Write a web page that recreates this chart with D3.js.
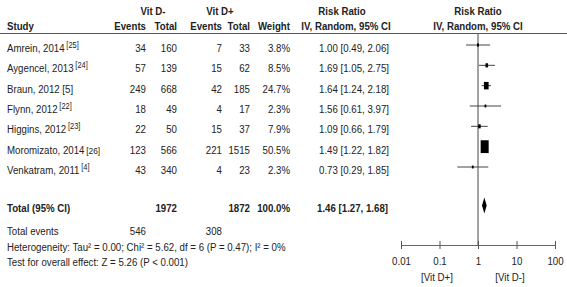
<!DOCTYPE html>
<html><head><meta charset="utf-8">
<script src="https://cdn.jsdelivr.net/npm/d3@7"></script>
<style>
html,body{margin:0;padding:0;background:#fff;}
svg text{font-family:"Liberation Sans",Arial,sans-serif;font-size:11px;fill:#222;}
</style></head>
<body><svg id="c" width="567" height="287"></svg>
<script>
const studies = ["Amrein, 2014", "Aygencel, 2013", "Braun, 2012", "Flynn, 2012", "Higgins, 2012", "Moromizato, 2014", "Venkatram,  2011"];
const refs = ["[25]", "[24]", "[5]", "[22]", "[23]", "[26]", "[4]"];
const refStyle = ["sup", "sup", "inline", "sup", "sup", "small", "sup"];
const eventsMinus = [34, 57, 249, 18, 22, 123, 43];
const totalMinus = [160, 139, 668, 49, 50, 566, 340];
const eventsPlus = [7, 15, 42, 4, 15, 221, 4];
const totalPlus = [33, 62, 185, 17, 37, 1515, 23];
const weights = [3.8, 8.5, 24.7, 2.3, 7.9, 50.5, 2.3];
const rr = [1.00, 1.69, 1.64, 1.56, 1.09, 1.49, 0.73];
const lo = [0.49, 1.05, 1.24, 0.61, 0.66, 1.22, 0.29];
const hi = [2.06, 2.75, 2.18, 3.97, 1.79, 1.82, 1.85];
const pooled = {rr: 1.46, lo: 1.27, hi: 1.68};
const totals = {minus: 1972, plus: 1872, weight: "100.0%"};
const totalEvents = {minus: 546, plus: 308};
const hetText = "Heterogeneity: Tau\u00B2 = 0.00; Chi\u00B2 = 5.62, df = 6 (P = 0.47); I\u00B2 = 0%";
const testText = "Test for overall effect: Z = 5.26 (P < 0.001)";
const axisTicks = [0.01, 0.1, 1, 10, 100];
const axisTickLabels = ["0.01", "0.1", "1", "10", "100"];
const favourLabels = ["[Vit D+]", "[Vit D-]"];

const SX = 0.88;
const svg = d3.select("#c");
const x = d3.scaleLog().domain([0.01, 100]).range([401, 555]);
const y = d3.scalePoint().domain(d3.range(studies.length)).range([48, 170]);
const sz = d3.scaleLinear().domain([0, 50.5]).range([1.5, 8]);
const fmt = d => d.toFixed(2);

function txt(t, xx, yy, anchor, bold) {
  return svg.append("text")
    .attr("transform", `translate(${xx},${yy}) scale(${SX},1)`)
    .attr("text-anchor", anchor || "start")
    .attr("font-weight", bold ? "bold" : null).text(t);
}

// headers
txt("Vit D-", 153, 15, "middle", true);
txt("Vit D+", 220, 15, "middle", true);
txt("Risk Ratio", 342, 15, "middle", true);
txt("Risk Ratio", 478, 15, "middle", true);
txt("Study", 7, 30, "start", true);
txt("Events", 146, 30, "end", true);
txt("Total", 177, 30, "end", true);
txt("Events", 222, 30, "end", true);
txt("Total", 250, 30, "end", true);
txt("Weight", 290, 30, "end", true);
txt("IV, Random, 95% CI", 346, 30, "middle", true);
txt("IV, Random, 95% CI", 478, 30, "middle", true);

svg.append("line").attr("x1", 0).attr("x2", 567).attr("y1", 33.5).attr("y2", 33.5)
  .attr("stroke", "#555").attr("stroke-width", 1.2);

// study rows
studies.forEach((s, i) => {
  const yy = y(i) + 4;
  const t = txt(s, 7, yy);
  if (refStyle[i] === "sup") {
    t.append("tspan").attr("font-size", "8.5px").attr("dy", -4).attr("dx", 2).text(refs[i]);
  } else if (refStyle[i] === "small") {
    t.append("tspan").attr("font-size", "9.5px").attr("dx", 2).text(refs[i]);
  } else {
    t.append("tspan").attr("dx", 3).text(refs[i]);
  }
  txt(eventsMinus[i], 146, yy, "end");
  txt(totalMinus[i], 177, yy, "end");
  txt(eventsPlus[i], 222, yy, "end");
  txt(totalPlus[i], 250, yy, "end");
  txt(weights[i].toFixed(1) + "%", 290, yy, "end");
  txt(`${fmt(rr[i])} [${fmt(lo[i])}, ${fmt(hi[i])}]`, 319, yy, "start");
});

// total rows
const ty = 212;
txt("Total (95% CI)", 7, ty, "start", true);
txt(totals.minus, 177, ty, "end", true);
txt(totals.plus, 250, ty, "end", true);
txt(totals.weight, 290, ty, "end", true);
txt(`${fmt(pooled.rr)} [${fmt(pooled.lo)}, ${fmt(pooled.hi)}]`, 317, ty, "start", true);
txt("Total events", 7, 235);
txt(totalEvents.minus, 146, 235, "end");
txt(totalEvents.plus, 222, 235, "end");
txt(hetText, 7, 251);
txt(testText, 7, 266);

// plot: vertical line at 1
svg.append("line").attr("x1", x(1)).attr("x2", x(1)).attr("y1", 33).attr("y2", 245)
  .attr("stroke", "#666").attr("stroke-width", 1.2);

// CI lines and squares
const g = svg.append("g");
studies.forEach((s, i) => {
  const my = y(i) - 3;
  g.append("line").attr("x1", x(lo[i])).attr("x2", x(hi[i])).attr("y1", my).attr("y2", my)
    .attr("stroke", "#444").attr("stroke-width", 1);
  const w = sz(weights[i]), h = w * 1.6;
  g.append("rect").attr("x", x(rr[i]) - w / 2).attr("y", my - h / 2)
    .attr("width", w).attr("height", h).attr("fill", "#000");
});

// diamond
const dy = 205.5;
svg.append("path")
  .attr("d", `M${x(pooled.lo)},${dy} L${x(pooled.rr)},${dy - 8} L${x(pooled.hi)},${dy} L${x(pooled.rr)},${dy + 8} Z`)
  .attr("fill", "#000");

// axis
const axis = d3.axisBottom(x).tickValues(axisTicks).tickFormat((d, i) => axisTickLabels[i]).tickSize(0);
const ag = svg.append("g").attr("transform", "translate(0,245)").call(axis);
ag.attr("font-size", null).attr("font-family", null);
ag.select(".domain").attr("stroke", "#666").attr("stroke-width", 1.2);
ag.selectAll(".tick line").remove();
ag.selectAll(".tick").append("line").attr("y1", -4).attr("y2", 4).attr("stroke", "#555").attr("stroke-width", 1);
ag.selectAll(".tick text").attr("y", null).attr("dy", null)
  .attr("transform", `translate(0,20) scale(${SX},1)`).attr("fill", "#222");

txt(favourLabels[0], 437, 281, "middle");
txt(favourLabels[1], 510, 281, "middle");
</script>
</body></html>
